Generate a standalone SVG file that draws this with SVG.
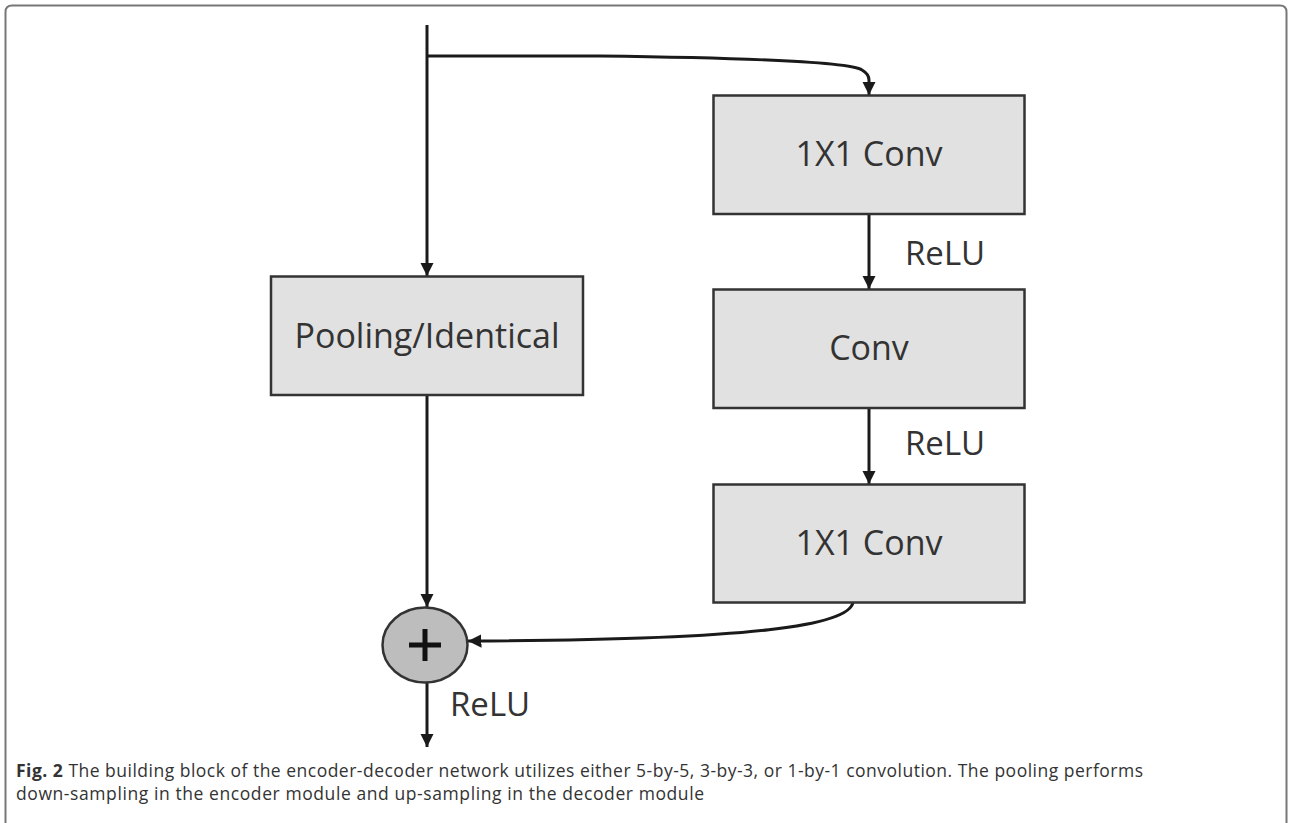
<svg xmlns="http://www.w3.org/2000/svg" width="1292" height="823" viewBox="0 0 1292 823">
<style>
.box{fill:#e1e1e1;stroke:#333;stroke-width:2.5}
.lbl{font-family:"Open Sans","Liberation Sans",sans-serif;font-size:34px;fill:#333;text-anchor:middle}
.relu{font-family:"Open Sans","Liberation Sans",sans-serif;font-size:33px;fill:#333}
.edge{fill:none;stroke:#1a1a1a;stroke-width:3}
.cap{font-family:"Open Sans","Noto Sans","Liberation Sans",sans-serif;font-size:17.5px;fill:#333}
</style>
<defs>
<marker id="ah" viewBox="0 0 10 10" refX="10" refY="5" markerWidth="4.5" markerHeight="4.5" orient="auto" markerUnits="strokeWidth">
<path d="M0,0 L10,5 L0,10 z" fill="#1a1a1a"/>
</marker>
</defs>
<rect width="1292" height="823" fill="#fff"/>
<path d="M5.5,823 V12 Q5.5,5.5 12,5.5 H1280 Q1286.5,5.5 1286.5,12 V823" fill="none" stroke="#777" stroke-width="2"/>
<g id="connectors">
<path class="edge" d="M427,25 V276" marker-end="url(#ah)"/>
<path class="edge" d="M427,56 H600 C760,58 850,62 862,70 Q869,74 869,80 V95" marker-end="url(#ah)"/>
<path class="edge" d="M427,395 V607" marker-end="url(#ah)"/>
<path class="edge" d="M869,214 V289" marker-end="url(#ah)"/>
<path class="edge" d="M869,408 V484" marker-end="url(#ah)"/>
<path class="edge" d="M853,602 C850,625 760,640 468,641" marker-end="url(#ah)"/>
<path class="edge" d="M427,682 V747" marker-end="url(#ah)"/>
</g>
<g id="node-conv1">
<rect class="box" x="713.5" y="95.5" width="311" height="118.5"/>
<text class="lbl" x="869" y="166">1X1 Conv</text>
</g>
<g id="label-relu1"><text class="relu" x="905" y="265">ReLU</text></g>
<g id="node-conv2">
<rect class="box" x="713.5" y="289.5" width="311" height="118.5"/>
<text class="lbl" x="869" y="360">Conv</text>
</g>
<g id="label-relu2"><text class="relu" x="905" y="455">ReLU</text></g>
<g id="node-conv3">
<rect class="box" x="713.5" y="484.5" width="311" height="118"/>
<text class="lbl" x="869" y="555">1X1 Conv</text>
</g>
<g id="node-pool">
<rect class="box" x="271" y="276.5" width="312" height="118.5"/>
<text class="lbl" x="427" y="348">Pooling/Identical</text>
</g>
<g id="node-add">
<ellipse cx="425" cy="645" rx="42.5" ry="37.5" fill="#bdbdbd" stroke="#333" stroke-width="2.5"/>
<path d="M409,645 H441 M425,629 V661" stroke="#111" stroke-width="5"/>
</g>
<g id="label-relu3"><text class="relu" x="450" y="716">ReLU</text></g>
<g id="caption">
<text class="cap" x="16" y="777" textLength="1127" lengthAdjust="spacing"><tspan font-weight="bold">Fig. 2</tspan> The building block of the encoder-decoder network utilizes either 5-by-5, 3-by-3, or 1-by-1 convolution. The pooling performs</text>
<text class="cap" x="16" y="800" textLength="688" lengthAdjust="spacing">down-sampling in the encoder module and up-sampling in the decoder module</text>
</g>
</svg>
